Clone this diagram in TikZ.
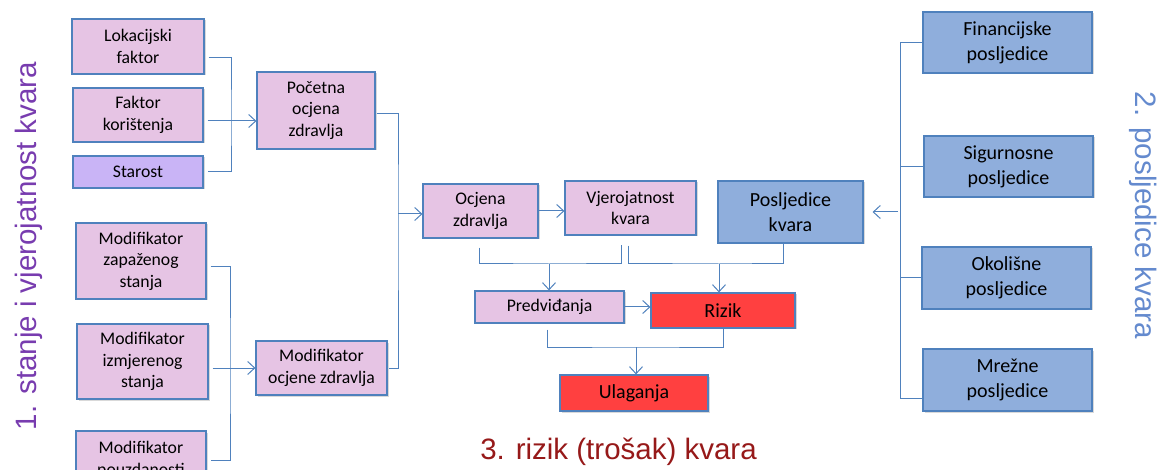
\documentclass[tikz,border=0pt]{standalone}
\usepackage{fontspec}
\setmainfont{Carlito}
\newfontfamily\titlefont{Liberation Sans}
\usetikzlibrary{arrows.meta,shadows}
\definecolor{riskedge}{RGB}{79,129,189}
\definecolor{riskpink}{RGB}{230,196,228}
\definecolor{risklilac}{RGB}{201,180,246}
\definecolor{riskblue}{RGB}{143,174,220}
\definecolor{riskred}{RGB}{255,64,64}
\definecolor{risktitleA}{RGB}{120,60,175}
\definecolor{risktitleB}{RGB}{100,138,206}
\definecolor{risktitleC}{RGB}{150,25,25}

\begin{document}
\begin{tikzpicture}[x=1pt,y=-1pt,
  box/.style={draw=riskedge,line width=1.2pt,align=center,inner sep=0pt,font=\fontsize{17.7}{21.4}\selectfont,
    drop shadow={shadow xshift=1.5pt,shadow yshift=-1.5pt,opacity=0.3}},
  bigbox/.style={box,font=\fontsize{20}{25}\selectfont},
  sz/.style 2 args={minimum width=#1pt,minimum height=#2pt},
  link/.style={draw=riskedge,line width=1pt},
  arr/.style={link,-{Straight Barb[length=7pt,width=13pt]}},
  title/.style={font=\titlefont\fontsize{29.5}{30}\selectfont,inner sep=0pt}]
  \useasboundingbox (0,0) rectangle (1162,470); \clip (0,0) rectangle (1162,470);
  % 1. stanje i vjerojatnost kvara
  \node[box,fill=riskpink,sz={132}{55}] (lok) at (138,46.5) {Lokacijski\\faktor};
  \node[box,fill=riskpink,sz={130}{54}] (fak) at (138,115) {Faktor\\korištenja};
  \node[box,fill=risklilac,sz={130}{32}] (sta) at (138,172) {Starost};
  \node[box,fill=riskpink,sz={118}{77}] (poc) at (316,110.5) {Početna\\ocjena\\zdravlja};
  \node[box,fill=riskpink,sz={130}{76}] (mza) at (141,261) {Modifikator\\zapaženog\\stanja};
  \node[box,fill=riskpink,sz={131}{75}] (miz) at (142.5,361.5) {Modifikator\\izmjerenog\\stanja};
  \node[box,fill=riskpink,sz={130}{76}] (mpo) at (141,469) {Modifikator\\pouzdanosti\\\phantom{x}};
  \node[box,fill=riskpink,sz={131}{54}] (ocz) at (321.5,368) {Modifikator\\ocjene zdravlja};
  \node[box,fill=riskpink,sz={115}{54}] (ocj) at (480.5,211) {Ocjena\\zdravlja};
  \node[box,fill=riskpink,sz={131}{54}] (vje) at (630.5,208) {Vjerojatnost\\kvara};
  % 2. posljedice kvara
  \node[bigbox,fill=riskblue,sz={145}{62}] (pos) at (790.5,212) {Posljedice\\kvara};
  \node[bigbox,fill=riskblue,sz={169}{61}] (fin) at (1007.5,42.5) {Financijske\\posljedice};
  \node[bigbox,fill=riskblue,sz={169}{61}] (sig) at (1008.5,166.5) {Sigurnosne\\posljedice};
  \node[bigbox,fill=riskblue,sz={169}{62}] (oko) at (1006.5,278) {Okolišne\\posljedice};
  \node[bigbox,fill=riskblue,sz={169}{62}] (mre) at (1007.5,380) {Mrežne\\posljedice};
  % 3. rizik
  \node[box,fill=riskpink,sz={149}{32}] (pre) at (549.5,307) {Predviđanja};
  \node[bigbox,fill=riskred,sz={144}{35}] (riz) at (723,310.5) {Rizik};
  \node[bigbox,fill=riskred,sz={148}{36}] (ula) at (634,393) {Ulaganja};
  % junctions
  \coordinate (j1) at (231,121); \coordinate (j2) at (230,368); \coordinate (j3) at (398,214);
  \coordinate (j4) at (549,264); \coordinate (j5) at (719,264); \coordinate (j6) at (636,347);
  \coordinate (j7) at (900,212);
  \draw[link] ([xshift=4pt,yshift=-11pt]lok.east) -| (j1) |- ([xshift=4pt]sta.east);
  \draw[arr] ([xshift=4pt,yshift=-6pt]fak.east) -- (poc.west |- j1);
  \draw[link] ([xshift=4pt,yshift=-6pt]mza.east) -| (j2) |- ([xshift=4pt,yshift=9pt]mpo.east);
  \draw[arr] ([xshift=4pt,yshift=-6.5pt]miz.east) -- (ocz.west |- j2);
  \draw[link] ([xshift=1pt,yshift=-3.5pt]poc.east) -| (j3) |- ([xshift=1pt]ocz.east);
  \draw[arr] (j3) -- (ocj.west |- j3);
  \draw[arr] (ocj.east) -- (ocj.east -| vje.west);
  \draw[link] ([xshift=-1.5pt,yshift=-9pt]ocj.south) |- (j4) -| ([xshift=-9.5pt,yshift=-9pt]vje.south);
  \draw[arr] (j4) -- (j4 |- pre.north);
  \draw[link] ([xshift=-2.5pt,yshift=-10pt]vje.south) |- (j5) -| ([xshift=-7.5pt]pos.south);
  \draw[arr] (j5) -- (j5 |- riz.north);
  \draw[arr] (pre.east) -- (pre.east -| riz.west);
  \draw[link] ([xshift=-2.5pt,yshift=-6pt]pre.south) |- (j6) -| (riz.south);
  \draw[arr] (j6) -- (j6 |- ula.north);
  \draw[link] (fin.west) -| (j7) |- ([yshift=-18pt]mre.west);
  \draw[link] (sig.west) -- (sig.west -| j7); \draw[link] (oko.west) -- (oko.west -| j7);
  \draw[arr,shorten >=9pt] ([xshift=-2pt]j7) -- (j7 -| pos.east);
  % titles
  \node[title,text=risktitleA,rotate=90] (tstate) at (29,246) {1. stanje i vjerojatnost kvara};
  \node[title,text=risktitleB,rotate=-90] (tcons) at (1143,215.5) {2. posljedice kvara};
  \node[title,text=risktitleC] (trisk) at (618.5,452) {3. rizik (trošak) kvara};
\end{tikzpicture}
\end{document}
